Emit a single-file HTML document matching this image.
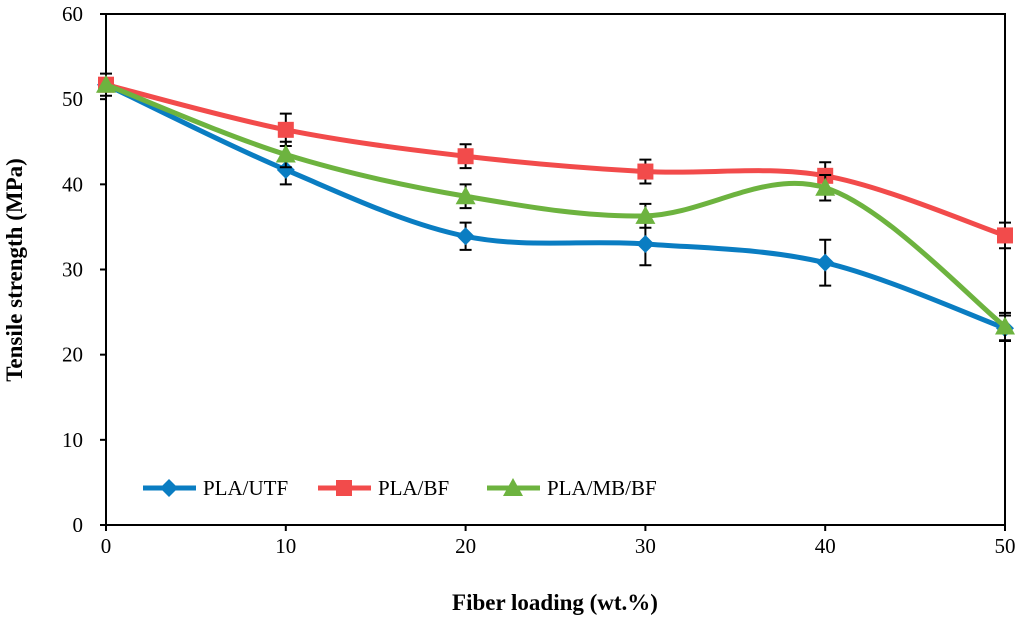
<!DOCTYPE html>
<html><head><meta charset="utf-8"><style>
body{margin:0;background:#fff;width:1024px;height:620px;overflow:hidden}
text{font-family:"Liberation Serif",serif}
</style></head><body>
<svg id="chart" width="1024" height="620" xmlns="http://www.w3.org/2000/svg">
<g id="axes"></g>
<g id="series"></g>
<text x="555" y="610" font-size="23" font-weight="bold" text-anchor="middle">Fiber loading (wt.%)</text>
<text transform="translate(22,270) rotate(-90)" font-size="23" font-weight="bold" text-anchor="middle">Tensile strength (MPa)</text>
<g id="legend"></g>
</svg>
<script>
const categories=[0,10,20,30,40,50];
const yTicks=[0,10,20,30,40,50,60];
const seriesNames=["PLA/UTF","PLA/BF","PLA/MB/BF"];
const utf=[51.7,41.7,33.9,33.0,30.8,23.1];
const bf=[51.7,46.4,43.3,41.5,41.0,34.0];
const mbbf=[51.7,43.5,38.6,36.3,39.6,23.3];
const utfErr=[0,1.7,1.6,2.5,2.7,1.5];
const bfErr=[1.3,1.9,1.4,1.4,1.6,1.5];
const mbbfErr=[0,1.5,1.4,1.4,1.5,1.6];
const X0=106,X1=1005,Y0=525,Y1=14;
const xs=v=>X0+(v-0)/(50)*(X1-X0);
const ys=v=>Y0-(v/60)*(Y0-Y1);
const NS="http://www.w3.org/2000/svg";
function mk(tag,attrs,parent){const e=document.createElementNS(NS,tag);for(const k in attrs)e.setAttribute(k,attrs[k]);parent.appendChild(e);return e;}
const axes=document.getElementById('axes');
let r=mk('rect',{x:X0,y:Y1,width:X1-X0,height:Y0-Y1,fill:'none',stroke:'#000','stroke-width':2},axes);


yTicks.forEach(t=>{
 let l=mk('line',{x1:X0-6,x2:X0,y1:ys(t),y2:ys(t),stroke:'#000','stroke-width':2},axes);
 
 
 let tx=mk('text',{x:X0-23,y:ys(t)+7,'font-size':21,'text-anchor':'end'},axes);tx.textContent=t;
 
 
});
categories.forEach(c=>{
 let l=mk('line',{x1:xs(c),x2:xs(c),y1:Y0,y2:Y0+6,stroke:'#000','stroke-width':2},axes);
 
 
 let tx=mk('text',{x:xs(c),y:Y0+28,'font-size':21,'text-anchor':'middle'},axes);tx.textContent=c;
 
 
});
function smooth(pts){let d=`M${pts[0][0]},${pts[0][1]}`;
 for(let i=0;i<pts.length-1;i++){const p0=pts[i-1]||pts[i],p1=pts[i],p2=pts[i+1],p3=pts[i+2]||p2;
  const c1=[p1[0]+(p2[0]-p0[0])/6,p1[1]+(p2[1]-p0[1])/6],c2=[p2[0]-(p3[0]-p1[0])/6,p2[1]-(p3[1]-p1[1])/6];
  d+=` C${c1[0]},${c1[1]} ${c2[0]},${c2[1]} ${p2[0]},${p2[1]}`;}return d;}
function marker(type,x,y,color,g){
 if(type==='d')return mk('path',{d:`M${x},${y-9} L${x+9},${y} L${x},${y+9} L${x-9},${y}Z`,fill:color},g);
 if(type==='s')return mk('rect',{x:x-8,y:y-8,width:16,height:16,fill:color},g);
 return mk('path',{d:`M${x},${y-10} L${x+10},${y+8} L${x-10},${y+8}Z`,fill:color},g);}
const sg=document.getElementById('series');
const defs=[[utf,utfErr,'#0a7dc2','d','series-pla-utf'],[bf,bfErr,'#f24b4b','s','series-pla-bf'],[mbbf,mbbfErr,'#6db33f','t','series-pla-mb-bf']];
defs.forEach(([vals,errs,color,mt,name])=>{
 const g=mk('g',{},sg);
 
 
 vals.forEach((v,i)=>{if(!errs[i])return;const x=xs(categories[i]);
  const e=mk('path',{d:`M${x},${ys(v-errs[i])}V${ys(v+errs[i])}M${x-6},${ys(v-errs[i])}h12M${x-6},${ys(v+errs[i])}h12`,stroke:'#000','stroke-width':2,fill:'none'},g);
  
  });
 const p=mk('path',{d:smooth(vals.map((v,i)=>[xs(categories[i]),ys(v)])),fill:'none',stroke:color,'stroke-width':5},g);
 
 
 vals.forEach((v,i)=>{const m=marker(mt,xs(categories[i]),ys(v),color,g);
  
  });
});
const lg=document.getElementById('legend');
const lx=[143,318,487];
defs.forEach((d,i)=>{const g=mk('g',{},lg);
 
 
 mk('line',{x1:lx[i],x2:lx[i]+53,y1:488,y2:488,stroke:d[2],'stroke-width':5},g);
 marker(d[3],lx[i]+26,488,d[2],g);
 const t=mk('text',{x:lx[i]+60,y:495,'font-size':21},g);t.textContent=seriesNames[i];});
</script>
</body></html>
